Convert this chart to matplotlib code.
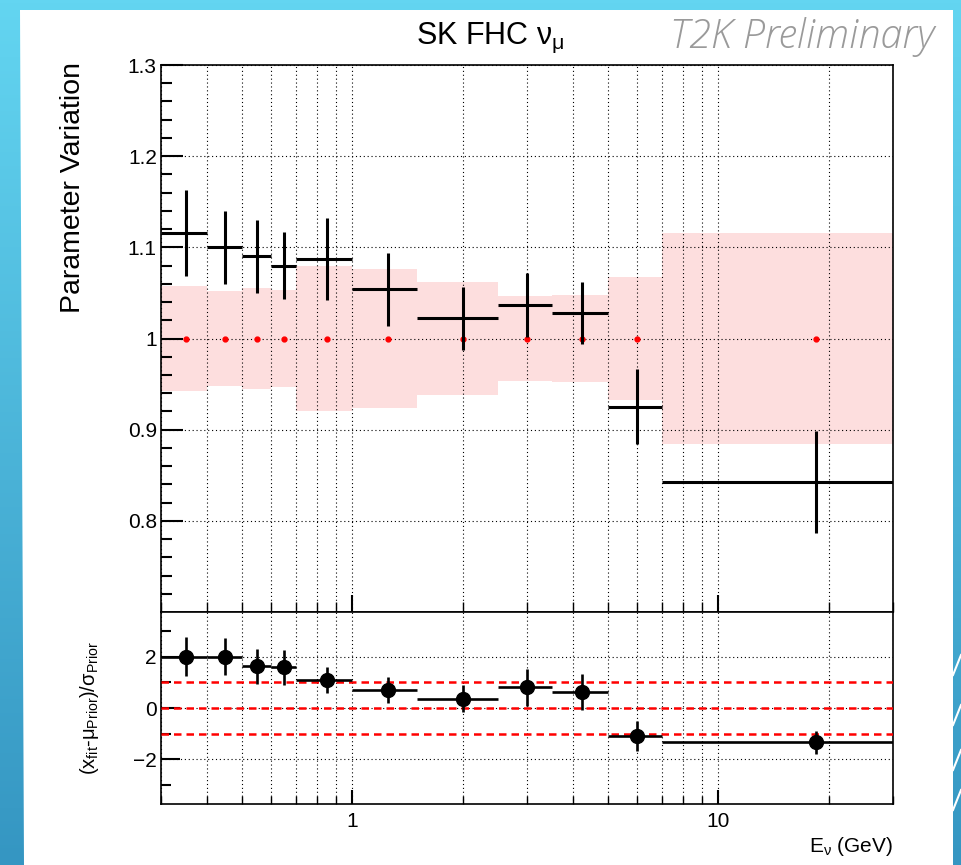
import numpy as np
import matplotlib
matplotlib.use("Agg")
import matplotlib.pyplot as plt
from matplotlib.patches import Polygon

plt.rcParams["font.family"] = ["Liberation Sans", "DejaVu Sans"]
plt.rcParams["mathtext.fontset"] = "custom"
plt.rcParams["mathtext.rm"] = "Liberation Sans"
plt.rcParams["mathtext.it"] = "Liberation Sans:italic"
plt.rcParams["mathtext.bf"] = "Liberation Sans:bold"

# Energy bins (GeV)
bin_edges = [0.3, 0.4, 0.5, 0.6, 0.7, 1.0, 1.5, 2.5, 3.5, 5.0, 7.0, 30.0]

# Post-fit parameter values and errors
post_mean = [1.116, 1.100, 1.090, 1.080, 1.087, 1.054, 1.022, 1.037, 1.028, 0.925, 0.843]
post_err = [0.047, 0.040, 0.040, 0.037, 0.045, 0.040, 0.035, 0.035, 0.034, 0.041, 0.056]

# Prior values and errors
prior_mean = [1.0, 1.0, 1.0, 1.0, 1.0, 1.0, 1.0, 1.0, 1.0, 1.0, 1.0]
prior_err = [0.058, 0.052, 0.055, 0.053, 0.080, 0.076, 0.062, 0.047, 0.048, 0.068, 0.116]

# Pulls (x_fit - mu_prior) / sigma_prior
pull = [2.00, 2.00, 1.62, 1.59, 1.09, 0.70, 0.36, 0.81, 0.61, -1.10, -1.34]
pull_err = [0.77, 0.72, 0.67, 0.68, 0.52, 0.51, 0.53, 0.72, 0.70, 0.58, 0.45]

top_yticks = [0.8, 0.9, 1.0, 1.1, 1.2, 1.3]
top_ylabels = ["0.8", "0.9", "1", "1.1", "1.2", "1.3"]
bot_yticks = [-2, 0, 2]
bot_ylabels = ["\u22122", "0", "2"]
ref_lines = [-1, 0, 1]

edges = np.array(bin_edges)
lo = edges[:-1]
hi = edges[1:]
centres = 0.5 * (lo + hi)
xerr = [centres - lo, hi - centres]

W, H = 961, 865
fig = plt.figure(figsize=(W / 100, H / 100), dpi=100)

# slide background
bg = fig.add_axes([0, 0, 1, 1])
grad = np.linspace(0, 1, 256).reshape(-1, 1)
cmap = matplotlib.colors.LinearSegmentedColormap.from_list("slide", ["#63d5f1", "#3596c2"])
bg.imshow(grad, extent=[0, 1, 0, 1], aspect="auto", cmap=cmap, origin="upper")
bg.add_patch(Polygon([[20 / W, 1 - 10 / H], [953 / W, 1 - 10 / H], [953 / W, 0], [24 / W, 0]],
                     closed=True, facecolor="white", edgecolor="none"))
for y0 in [800, 760, 715, 665]:
    bg.plot([953 / W, 1], [1 - (y0 + 10) / H, 1 - (y0 - 10) / H], color="white", lw=1.5)
bg.set_xlim(0, 1)
bg.set_ylim(0, 1)
bg.axis("off")

left = 161 / W
width = (893 - 161) / W
ax = fig.add_axes([left, 1 - 612 / H, width, (612 - 65) / H])
ax2 = fig.add_axes([left, 1 - 804 / H, width, (804 - 612) / H])

grid_style = dict(linestyle=(0, (1, 2.5)), color="black", linewidth=0.8)

# ---- top panel ----
ax.bar(lo, 2 * np.array(prior_err), width=hi - lo, bottom=np.array(prior_mean) - np.array(prior_err),
       align="edge", color="#fddede", edgecolor="none", zorder=1)
ax.plot(centres, prior_mean, linestyle="none", marker="o", markersize=3.5, color="red", zorder=4)
ax.errorbar(centres, post_mean, xerr=xerr, yerr=post_err, fmt="none", ecolor="black",
            elinewidth=2.2, capsize=0, zorder=5)
ax.plot(centres, post_mean, linestyle="none", marker="o", markersize=1.5, color="black", zorder=6)

ax.set_xscale("log")
ax.set_xlim(0.3, 30)
ax.set_ylim(0.7, 1.3)
ax.set_yticks(top_yticks)
ax.set_yticklabels(top_ylabels)
ax.set_yticks(np.arange(0.72, 1.3, 0.02), minor=True)
ax.set_xticks([1, 10])
ax.set_xticklabels([])
ax.xaxis.set_minor_formatter(matplotlib.ticker.NullFormatter())
ax.set_axisbelow(False)
ax.xaxis.grid(True, which="both", **grid_style)
ax.yaxis.grid(True, which="major", **grid_style)
ax.tick_params(axis="y", which="major", direction="in", length=16, width=1.5, labelsize=15, pad=3)
ax.tick_params(axis="y", which="minor", direction="in", length=8, width=1.5)
ax.tick_params(axis="x", which="major", direction="in", length=12, width=1.5)
ax.tick_params(axis="x", which="minor", direction="in", length=7, width=1.0)
ax.set_ylabel("Parameter Variation", fontsize=20.5, loc="top")
ax.yaxis.set_label_coords(-(161 - 86) / (893 - 161), 1.005)
for s in ax.spines.values():
    s.set_linewidth(1.2)

# ---- bottom panel ----
for r in ref_lines:
    ax2.axhline(r, color="red", linestyle=(0, (3, 2)), linewidth=1.8, zorder=3)
ax2.errorbar(centres, pull, xerr=xerr, yerr=pull_err, fmt="o", color="black", markersize=10,
             elinewidth=1.9, capsize=0, zorder=5)
ax2.set_xscale("log")
ax2.set_xlim(0.3, 30)
ax2.set_ylim(-3.73, 3.73)
ax2.set_yticks(bot_yticks)
ax2.set_yticklabels(bot_ylabels)
ax2.set_yticks([-3, -1, 1, 3], minor=True)
ax2.set_xticks([1, 10])
ax2.set_xticklabels(["1", "10"])
ax2.xaxis.set_minor_formatter(matplotlib.ticker.NullFormatter())
ax2.set_axisbelow(False)
ax2.xaxis.grid(True, which="both", **grid_style)
ax2.yaxis.grid(True, which="major", **grid_style)
ax2.tick_params(axis="y", which="major", direction="in", length=14, width=1.5, labelsize=15, pad=3)
ax2.tick_params(axis="y", which="minor", direction="in", length=7, width=1.5)
ax2.tick_params(axis="x", which="major", direction="in", length=10, width=1.5, labelsize=15, pad=6)
ax2.tick_params(axis="x", which="minor", direction="in", length=6, width=1.0)
ax2.set_ylabel(r"(x$_{\rm fit}$-$\mathrm{\mu}_{\rm Prior}$)/$\mathrm{\sigma}_{\rm Prior}$", fontsize=14.5)
ax2.yaxis.set_label_coords(-(161 - 101) / (893 - 161), 0.5)
ax2.set_xlabel(r"E$_{\mathrm{\nu}}$ (GeV)", fontsize=15, loc="right", labelpad=3)
for s in ax2.spines.values():
    s.set_linewidth(1.2)

# titles
fig.text(490 / W, 1 - 38 / H, r"SK FHC $\mathrm{\nu}_{\mathrm{\mu}}$", fontsize=22, ha="center", va="center")
fig.text(935 / W, 1 - 37 / H, "T2K Preliminary", fontsize=28.5, color="#9a9a9a",
         family=["Open Sans", "Lato"], style="italic", fontweight="light", ha="right", va="center")

fig.savefig("out.png", dpi=100)
